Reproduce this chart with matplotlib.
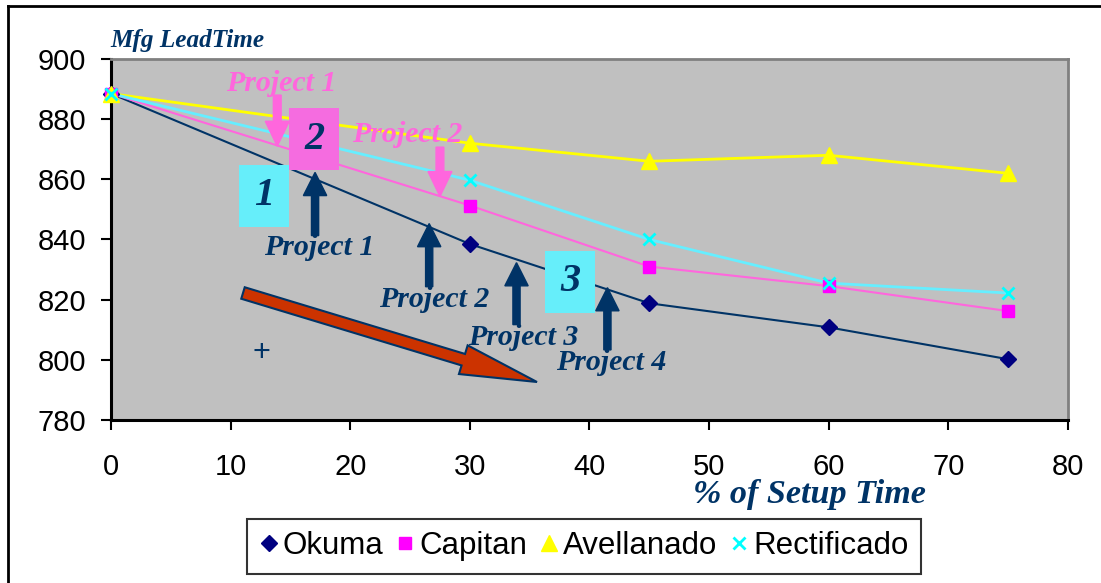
import matplotlib
matplotlib.use("Agg")
import matplotlib.pyplot as plt
from matplotlib.patches import FancyArrow, Rectangle
from matplotlib.lines import Line2D

# data
setup_pct = [0, 30, 45, 60, 75]
okuma = [888.5, 838.5, 818.8, 810.8, 800.2]
capitan = [888.5, 851.3, 831.0, 824.5, 816.2]
avellanado = [888.5, 872.0, 866.0, 868.0, 862.0]
rectificado = [888.5, 859.7, 840.0, 825.5, 822.2]

navy = '#003366'
pink = '#FF66DD'
cyan_box = '#66EEFA'
pink_box = '#F56CE0'

fig = plt.figure(figsize=(11.01, 5.83), dpi=100)
ax = fig.add_axes([0.1008, 0.2796, 0.8692, 0.6192])
ax.set_facecolor('#C0C0C0')

# lines (drawn separately from the markers, like the hand-drawn shapes in the original)
ax.plot(setup_pct, okuma, color=navy, lw=1.5, zorder=3, clip_on=False)
ax.plot(setup_pct, capitan, color='#FF66DD', lw=1.5, zorder=3, clip_on=False)
ax.plot(setup_pct, avellanado, color='#FFFF00', lw=2, zorder=3, clip_on=False)
ax.plot(setup_pct, rectificado, color='#66EEFF', lw=2, zorder=3, clip_on=False)

ax.plot(setup_pct, okuma, 'D', color='#000080', ms=8, ls='none', label='Okuma', zorder=4, clip_on=False)
ax.plot(setup_pct, capitan, 's', color='#FF00FF', ms=9, ls='none', label='Capitan', zorder=4, clip_on=False)
ax.plot(setup_pct, avellanado, '^', color='#FFFF00', ms=12, ls='none', label='Avellanado', zorder=4, clip_on=False)
ax.plot(setup_pct, rectificado, 'x', color='#00FFFF', ms=8, mew=2, ls='none', label='Rectificado', zorder=5, clip_on=False)

ax.set_xlim(0, 80)
ax.set_ylim(780, 900)
ax.set_xticks(range(0, 81, 10))
ax.set_yticks(range(780, 901, 20))
for lab in ax.get_xticklabels() + ax.get_yticklabels():
    lab.set_fontfamily('Liberation Sans')
    lab.set_fontsize(21)
ax.tick_params(axis='x', direction='out', length=7, width=1.5, pad=17)
ax.tick_params(axis='y', direction='out', length=7, width=1.5, pad=11)
ax.spines['left'].set_linewidth(2.2)
ax.spines['bottom'].set_linewidth(2.2)
ax.spines['top'].set_color('#808080')
ax.spines['right'].set_color('#808080')
ax.spines['top'].set_linewidth(2)
ax.spines['right'].set_linewidth(2)

serif = dict(family='Liberation Serif', weight='bold', style='italic')

# numbered boxes
boxes = [(10.7, 844.3, '1', cyan_box), (14.9, 863.0, '2', pink_box), (36.3, 815.7, '3', cyan_box)]
for bx, by, txt, col in boxes:
    ax.add_patch(Rectangle((bx, by), 4.2, 20.6, facecolor=col, edgecolor='none', zorder=6))
    ax.text(bx + 2.1, by + 10.3, txt, color=navy, fontsize=29, ha='center', va='center', zorder=7, **serif)

# navy arrows pointing up at the Okuma line
navy_arrows = [(17.06, 841.3, 862.3, 17.4, 837.3, 'Project 1'),
               (26.6, 824.3, 845.3, 27.0, 820.0, 'Project 2'),
               (33.9, 811.7, 832.3, 34.5, 807.3, 'Project 3'),
               (41.5, 803.3, 824.0, 41.8, 799.0, 'Project 4')]
for axx, y0, y1, tx, ty, txt in navy_arrows:
    ax.add_patch(FancyArrow(axx, y0, 0, y1 - y0, width=0.6, head_width=1.95, head_length=7.7,
                            length_includes_head=True, color=navy, zorder=6))
    ax.text(tx, ty, txt, color=navy, fontsize=21.5, ha='center', va='center', zorder=7, **serif)

# pink arrows pointing down at the Capitan line
pink_arrows = [(13.9, 888.0, 871.0, 14.26, 891.7, 'Project 1'),
               (27.5, 870.7, 854.3, 24.8, 875.0, 'Project 2')]
for axx, y0, y1, tx, ty, txt in pink_arrows:
    ax.add_patch(FancyArrow(axx, y0, 0, y1 - y0, width=0.65, head_width=2.0, head_length=8.3,
                            length_includes_head=True, color=pink, zorder=6))
    ax.text(tx, ty, txt, color=pink, fontsize=21.5, ha='center', va='center', zorder=7, **serif)

ax.text(12.6, 802.3, '+', color=navy, fontsize=22, ha='center', va='center', family='Liberation Sans', zorder=7)

# big red trend arrow (drawn in inches so it keeps its shape)
t = fig.dpi_scale_trans
fig.patches.append(FancyArrow(2.43, 2.90, 2.94, -0.89, width=0.12, head_width=0.30, head_length=0.77,
                              length_includes_head=True, facecolor='#CC3300', edgecolor=navy,
                              lw=1.5, transform=t, zorder=8))

fig.text(110 / 1101, 1 - 47 / 583, 'Mfg LeadTime', color=navy, fontsize=18.2, ha='left', va='baseline', **serif)
fig.text(809 / 1101, 1 - 494 / 583, '% of Setup Time', color=navy, fontsize=24.6, ha='center', va='center', **serif)

leg = fig.legend(loc='center', bbox_to_anchor=(584 / 1101, 1 - 546 / 583), ncol=4,
                 prop={'family': 'Liberation Sans', 'size': 22.5}, frameon=True, fancybox=False,
                 handlelength=0.6, handletextpad=0.15, columnspacing=0.4, borderpad=0.4)
leg.get_frame().set_edgecolor('black')
leg.get_frame().set_linewidth(1.5)

# outer chart border (left and top edges visible)
fig.add_artist(Line2D([8 / 1101, 8 / 1101], [0, 1 - 6 / 583], color='black', lw=2, transform=fig.transFigure))
fig.add_artist(Line2D([8 / 1101, 1], [1 - 6 / 583, 1 - 6 / 583], color='black', lw=2, transform=fig.transFigure))

fig.savefig('out.png', dpi=100)
